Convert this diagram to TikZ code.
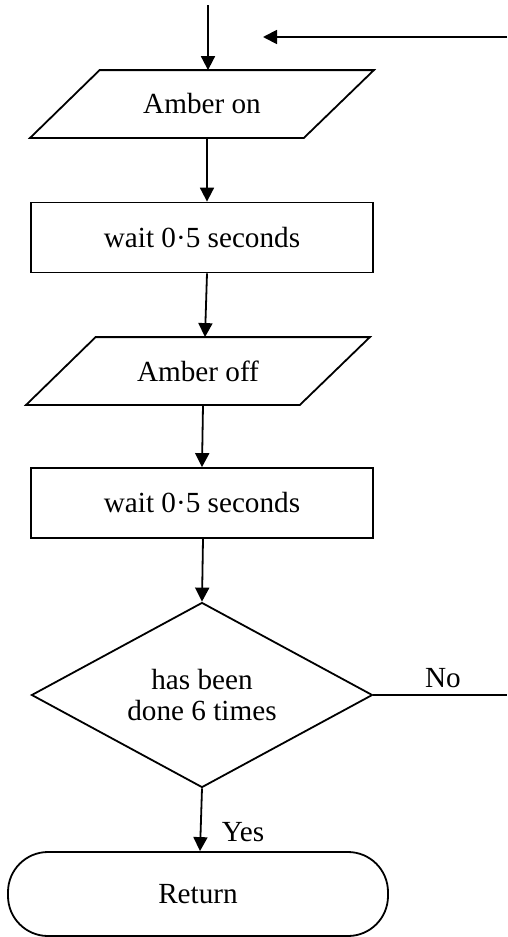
\documentclass[tikz,border=0pt]{standalone}
\usepackage{fontspec}
\setmainfont{Liberation Serif}
\usetikzlibrary{arrows.meta,shapes.geometric}
\begin{document}
\begin{tikzpicture}[x=1pt,y=-1pt, line width=1.8pt,
  font=\fontsize{29.2}{31}\selectfont,
  flow/.style={-{Triangle[length=14pt,width=14pt]}},
  box/.style={draw, rectangle, minimum width=342pt, minimum height=70pt, inner sep=0pt},
  para/.style={rectangle, minimum width=272pt, minimum height=66pt, inner sep=0pt},
  dec/.style={draw, diamond, aspect=1.84, minimum width=341pt, minimum height=185pt, inner sep=0pt, align=center},
  term/.style={draw, rectangle, rounded corners=40pt, minimum width=380pt, minimum height=84pt, inner sep=0pt},
  lab/.style={inner sep=0pt}]
\useasboundingbox (0,0) rectangle (507,937);

\node[para] (p1) at (202,104) {Amber on};
\draw ([xshift=34.5pt]p1.north west) -- ([xshift=35pt]p1.north east) -- ([xshift=-35pt]p1.south east) -- ([xshift=-35pt]p1.south west) -- cycle;

\node[box] (r1) at (202,237.5) {wait 0·5 seconds};

\node[para] (p2) at (198,371) {Amber off};
\draw ([xshift=34.5pt]p2.north west) -- ([xshift=35pt]p2.north east) -- ([xshift=-35pt]p2.south east) -- ([xshift=-35pt]p2.south west) -- cycle;

\node[box] (r2) at (202,503) {wait 0·5 seconds};
\node[dec] (d) at (202,695) {has been\\done 6 times};
\node[term] (ret) at (198,894) {Return};

\coordinate (in) at (208,5);
\draw[flow] (in) -- ([xshift=6pt]p1.north);
\draw[flow] ([xshift=5pt]p1.south) -- ([xshift=5pt]r1.north);
\draw[flow] ([xshift=5pt]r1.south) -- ([xshift=7pt]p2.north);
\draw[flow] ([xshift=5pt]p2.south) -- (r2.north);
\draw[flow] ([xshift=1pt]r2.south) -- (d.north);
\draw[flow] (d.south) -- ([xshift=2pt]ret.north);

\coordinate (back) at (507,37);
\coordinate (backend) at (263,37);
\draw[flow] (back) -- (backend);

\coordinate (noend) at (507,695);
\draw (d.east) -- (noend);
\node[lab] (no) at (443,678) {No};
\node[lab] (yes) at (243,832) {Yes};
\end{tikzpicture}
\end{document}
